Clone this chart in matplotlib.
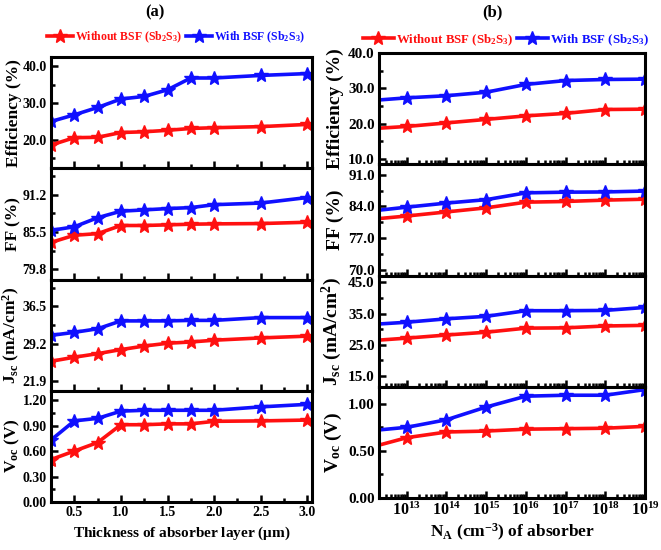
import numpy as np
import matplotlib
matplotlib.use("Agg")
import matplotlib.pyplot as plt
from matplotlib.ticker import MultipleLocator, FixedLocator, LogLocator, NullFormatter
from matplotlib.lines import Line2D

plt.rcParams['font.family'] = ['Liberation Serif', 'DejaVu Serif']
plt.rcParams['font.weight'] = 'bold'
plt.rcParams['mathtext.fontset'] = 'custom'
plt.rcParams['mathtext.rm'] = 'Liberation Serif:bold'
plt.rcParams['mathtext.it'] = 'Liberation Serif:bold'
plt.rcParams['mathtext.bf'] = 'Liberation Serif:bold'

# ---- panel (a): thickness of absorber layer (um) ----
thickness = [0.25, 0.5, 0.75, 1.0, 1.25, 1.5, 1.75, 2.0, 2.5, 3.0]
eff_a_without = [18.6, 20.6, 20.7, 22.0, 22.2, 22.6, 23.1, 23.3, 23.6, 24.2]
eff_a_with = [25.0, 26.8, 28.8, 31.1, 31.8, 33.6, 36.8, 36.8, 37.5, 38.0]
ff_a_without = [83.9, 85.0, 85.25, 86.5, 86.5, 86.6, 86.7, 86.75, 86.8, 87.0]
ff_a_with = [85.75, 86.3, 87.7, 88.7, 88.9, 89.1, 89.25, 89.7, 89.95, 90.8]
jsc_a_without = [25.7, 26.5, 27.2, 28.0, 28.7, 29.25, 29.5, 29.85, 30.3, 30.65]
jsc_a_with = [30.8, 31.4, 32.1, 33.65, 33.65, 33.65, 33.75, 33.75, 34.3, 34.3]
voc_a_without = [0.50, 0.60, 0.70, 0.91, 0.91, 0.92, 0.92, 0.95, 0.955, 0.965]
voc_a_with = [0.73, 0.955, 0.985, 1.07, 1.08, 1.08, 1.08, 1.08, 1.12, 1.15]

# ---- panel (b): acceptor density N_A (cm^-3) ----
na = [1e12, 1e13, 1e14, 1e15, 1e16, 1e17, 1e18, 1e19]
eff_b_without = [18.5, 19.2, 20.2, 21.2, 22.2, 22.9, 24.0, 24.1]
eff_b_with = [26.45, 27.3, 27.9, 28.9, 31.1, 32.2, 32.5, 32.6]
ff_b_without = [81.1, 81.9, 82.8, 83.7, 84.95, 85.1, 85.4, 85.6]
ff_b_with = [82.9, 83.85, 84.75, 85.5, 87.0, 87.15, 87.2, 87.4]
jsc_b_without = [26.2, 27.1, 28.1, 29.0, 30.3, 30.4, 31.0, 31.2]
jsc_b_with = [31.4, 32.2, 33.3, 34.1, 35.9, 35.9, 36.0, 36.95]
voc_b_without = [0.527, 0.64, 0.70, 0.71, 0.73, 0.735, 0.74, 0.76]
voc_b_with = [0.71, 0.75, 0.83, 0.965, 1.08, 1.09, 1.09, 1.15]

labels_a = ['Efficiency (%)', 'FF (%)', r'J$_{sc}$ (mA/cm$^2$)', r'V$_{oc}$ (V)']
labels_b = ['Efficiency (%)', 'FF (%)', r'J$_{sc}$ (mA/cm$^2$)', r'V$_{oc}$ (V)']
legend_labels = [r'Without BSF (Sb$_2$S$_3$)', r'With BSF (Sb$_2$S$_3$)']

RED = '#ff1010'
BLUE = '#1010ff'
W, H = 661, 550

fig = plt.figure(figsize=(W / 100, H / 100), dpi=100)


def make_axes(x0, x1, ytop, ybot, n=4):
    axes = []
    ph = (ybot - ytop) / n
    for i in range(n):
        top = ytop + i * ph
        ax = fig.add_axes([x0 / W, 1 - (top + ph) / H, (x1 - x0) / W, ph / H])
        axes.append(ax)
    return axes


def style(ax, size):
    for s in ax.spines.values():
        s.set_linewidth(2.2)
    ax.tick_params(which='both', direction='in', top=False, right=False,
                   labelsize=size, width=1.8, pad=3)
    ax.tick_params(which='major', length=5)
    ax.tick_params(which='minor', length=3)
    for t in ax.get_yticklabels() + ax.get_xticklabels():
        t.set_fontweight('bold')


def draw(ax, x, y1, y2):
    ax.plot(x, y1, color=RED, lw=2.6, marker='*', ms=10)
    ax.plot(x, y2, color=BLUE, lw=2.6, marker='*', ms=10)


axa = make_axes(51, 312, 57, 502)
series_a = [(eff_a_without, eff_a_with), (ff_a_without, ff_a_with),
            (jsc_a_without, jsc_a_with), (voc_a_without, voc_a_with)]
ylims_a = [(12.3, 42.5), (78.2, 95.3), (19.9, 41.8), (0.0, 1.31)]
yticks_a = [[20.0, 30.0, 40.0], [79.8, 85.5, 91.2], [21.9, 29.2, 36.5],
            [0.0, 0.3, 0.6, 0.9, 1.2]]
yfmt_a = ['{:.1f}', '{:.1f}', '{:.1f}', '{:.2f}']
yminor_a = [5.0, 2.85, 3.65, 0.15]

for i, ax in enumerate(axa):
    draw(ax, thickness, *series_a[i])
    ax.set_xlim(0.25, 3.05)
    ax.set_ylim(*ylims_a[i])
    ax.xaxis.set_major_locator(MultipleLocator(0.5))
    ax.xaxis.set_minor_locator(MultipleLocator(0.25))
    ax.set_yticks(yticks_a[i])
    ax.set_yticklabels([yfmt_a[i].format(v) for v in yticks_a[i]])
    ax.yaxis.set_minor_locator(MultipleLocator(yminor_a[i]))
    ax.set_ylabel(labels_a[i], fontsize=12.5, fontweight='bold')
    style(ax, 10)
    if i < 3:
        ax.tick_params(axis='x', labelbottom=False)
    else:
        ax.set_xticklabels(['{:.1f}'.format(v) for v in ax.get_xticks()])
        ax.set_xlabel(r'Thickness of absorber layer ($\mu$m)', fontsize=11,
                      fontweight='bold', labelpad=4)
    ax.yaxis.set_label_coords(-0.112, 0.5)

axb = make_axes(379, 645, 53, 498)
series_b = [(eff_b_without, eff_b_with), (ff_b_without, ff_b_with),
            (jsc_b_without, jsc_b_with), (voc_b_without, voc_b_with)]
ylims_b = [(8.5, 40.0), (68.8, 93.3), (11.5, 47.2), (0.0, 1.18)]
yticks_b = [[10.0, 20.0, 30.0, 40.0], [70.0, 77.0, 84.0, 91.0],
            [15.0, 25.0, 35.0, 45.0], [0.0, 0.5, 1.0]]
yfmt_b = ['{:.1f}', '{:.1f}', '{:.1f}', '{:.2f}']
yminor_b = [5.0, 3.5, 5.0, 0.25]

for i, ax in enumerate(axb):
    draw(ax, na, *series_b[i])
    ax.set_xscale('log')
    ax.set_xlim(10 ** 12.3, 1e19)
    ax.set_ylim(*ylims_b[i])
    ax.xaxis.set_major_locator(FixedLocator([1e13, 1e14, 1e15, 1e16, 1e17, 1e18, 1e19]))
    ax.xaxis.set_minor_locator(LogLocator(base=10, subs=np.arange(2, 10), numticks=20))
    ax.xaxis.set_minor_formatter(NullFormatter())
    ax.set_yticks(yticks_b[i])
    ax.set_yticklabels([yfmt_b[i].format(v) for v in yticks_b[i]])
    ax.yaxis.set_minor_locator(MultipleLocator(yminor_b[i]))
    ax.set_ylabel(labels_b[i], fontsize=14, fontweight='bold')
    style(ax, 11)
    if i < 3:
        ax.tick_params(axis='x', labelbottom=False)
    else:
        ax.set_xticklabels([r'10$^{%d}$' % e for e in range(13, 20)])
        ax.tick_params(axis='x', labelsize=11.5)
        ax.set_xlabel(r'N$_A$ (cm$^{-3}$) of absorber', fontsize=12.5,
                      fontweight='bold', labelpad=2)
    ax.yaxis.set_label_coords(-0.13, 0.5)

# panel titles
fig.text(155 / W, 1 - 12 / H, '(a)', ha='center', va='center', fontsize=12, fontweight='bold')
fig.text(492 / W, 1 - 12 / H, '(b)', ha='center', va='center', fontsize=12, fontweight='bold')

# legends
handles = [Line2D([], [], color=RED, lw=2.6, marker='*', ms=10),
           Line2D([], [], color=BLUE, lw=2.6, marker='*', ms=10)]
legend_specs = [(176 / W, 1 - 37 / H, 8.5, 2.2), (506 / W, 1 - 40 / H, 9.3, 2.4)]
for x, y, fs, hl in legend_specs:
    leg = fig.legend(handles, legend_labels, loc='center', bbox_to_anchor=(x, y),
                     ncol=2, frameon=False, fontsize=fs, handlelength=hl,
                     handletextpad=0.15, columnspacing=0.3, borderpad=0)
    for t, c in zip(leg.get_texts(), [RED, BLUE]):
        t.set_color(c)
        t.set_fontweight('bold')

fig.savefig('out.png', dpi=100)
